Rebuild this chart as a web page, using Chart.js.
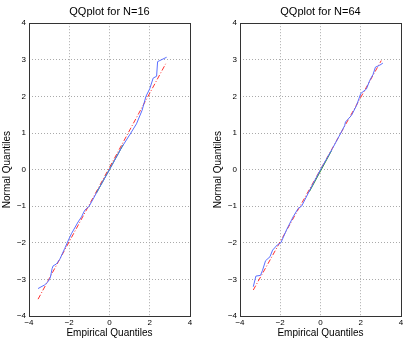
<!DOCTYPE html>
<html>
<head>
<meta charset="utf-8">
<script src="https://cdn.jsdelivr.net/npm/chart.js@4"></script>
<style>
  html, body { margin: 0; padding: 0; background: #fff; }
  #wrap { position: relative; width: 407px; height: 342px; }
  .box { position: absolute; top: 0; height: 342px; }
</style>
</head>
<body>
<div id="wrap">
  <div class="box" style="left:0; width:203px;"><canvas id="qq16"></canvas></div>
  <div class="box" style="left:211px; width:196px;"><canvas id="qq64"></canvas></div>
</div>
<script>
// tick values shared by both plots
const xTicks = [-4, -2, 0, 2, 4];
const yTicks = [-4, -3, -2, -1, 0, 1, 2, 3, 4];

// N=16 : empirical (x) vs normal (y) quantiles
const emp16 = [-3.55, -3.22, -3.05, -2.94, -2.85, -2.80, -2.64, -2.47, -2.22, -2.06, -1.89, -1.56, -1.39, -1.23, -1.01, -0.48, 0.02, 0.6, 1.06, 1.34, 1.62, 1.81, 2.0, 2.17, 2.34, 2.39, 2.5, 2.84];
const norm16 = [-3.25, -3.15, -3.06, -2.95, -2.70, -2.63, -2.58, -2.45, -2.15, -1.95, -1.75, -1.43, -1.29, -1.11, -1.0, -0.47, 0.02, 0.6, 1.0, 1.25, 1.62, 2.0, 2.21, 2.5, 2.55, 2.95, 2.98, 3.07];
const refX16 = [-3.55, 2.79];
const refY16 = [-3.54, 2.89];
const iqrX16 = [-0.65, 0.68];
const iqrY16 = [-0.64, 0.68];

// N=64
const emp64 = [-3.34, -3.21, -2.98, -2.88, -2.73, -2.51, -2.38, -2.15, -1.97, -1.69, -1.36, -1.11, -0.94, -0.40, 0.02, 0.6, 1.01, 1.2, 1.24, 1.54, 1.79, 2.0, 2.28, 2.45, 2.61, 2.73, 2.94, 3.1];
const norm64 = [-3.2, -2.91, -2.89, -2.75, -2.49, -2.38, -2.2, -2.06, -2.0, -1.65, -1.29, -1.06, -1.0, -0.42, 0.02, 0.58, 1.0, 1.2, 1.3, 1.48, 1.75, 2.08, 2.2, 2.44, 2.6, 2.8, 2.85, 2.91];
const refX64 = [-3.34, 3.02];
const refY64 = [-3.29, 2.98];
const iqrX64 = [-0.55, 0.55];
const iqrY64 = [-0.6, 0.52];

const pts = (xs, ys) => xs.map((x, i) => ({ x: x, y: ys[i] }));
const fmt = v => (v < 0 ? '\u2212' + Math.abs(v) : String(v));

// black frame around the plot area, like matlab's box on
const framePlugin = {
    id: 'frame',
    afterDraw(chart) {
        const a = chart.chartArea, ctx = chart.ctx;
        ctx.save();
        ctx.strokeStyle = '#333';
        ctx.lineWidth = 1;
        ctx.strokeRect(Math.round(a.left) + 0.5, Math.round(a.top) + 0.5,
            Math.round(a.right - a.left), Math.round(a.bottom - a.top));
        ctx.restore();
    }
};

function makeQQ(id, title, emp, norm, rx, ry, ix, iy) {
    const ctx = document.getElementById(id).getContext('2d');
    return new Chart(ctx, {
        type: 'scatter',
        data: {
            datasets: [
                {
                    data: pts(emp, norm),
                    showLine: true,
                    borderColor: 'rgb(90,110,255)',
                    borderWidth: 1,
                    pointRadius: 0,
                    order: 0
                },
                {
                    data: pts(rx, ry),
                    showLine: true,
                    borderColor: 'rgb(255,50,50)',
                    borderWidth: 1,
                    borderDash: [5, 2, 1, 2],
                    pointRadius: 0,
                    order: 2
                },
                {
                    data: pts(ix, iy),
                    showLine: true,
                    borderColor: 'rgb(40,150,40)',
                    borderWidth: 1,
                    pointRadius: 0,
                    order: 1
                }
            ]
        },
        options: {
            responsive: true,
            maintainAspectRatio: false,
            animation: false,
            layout: { padding: { left: 0, right: 13, top: 0, bottom: 0 } },
            plugins: {
                legend: { display: false },
                tooltip: { enabled: false },
                title: {
                    display: true,
                    text: title,
                    fullSize: false,
                    color: '#000',
                    font: { family: 'Liberation Sans', size: 11, weight: 'normal' },
                    padding: { top: 5, bottom: 5 }
                }
            },
            scales: {
                x: {
                    type: 'linear',
                    min: -4,
                    max: 4,
                    afterBuildTicks: s => { s.ticks = xTicks.map(v => ({ value: v })); },
                    afterFit: s => { s.height = 26; },
                    grid: { color: '#aaa', lineWidth: 1, drawTicks: false },
                    border: { display: false, dash: [1, 2] },
                    ticks: {
                        color: '#000',
                        padding: 2,
                        maxRotation: 0,
                        font: { family: 'Liberation Sans', size: 8 },
                        callback: v => fmt(v)
                    },
                    title: {
                        display: true,
                        text: 'Empirical Quantiles',
                        color: '#000',
                        font: { family: 'Liberation Sans', size: 10 },
                        padding: { top: 0, bottom: 3 }
                    }
                },
                y: {
                    type: 'linear',
                    min: -4,
                    max: 4,
                    afterBuildTicks: s => { s.ticks = yTicks.map(v => ({ value: v })); },
                    afterFit: s => { s.width = 29; },
                    grid: { color: '#aaa', lineWidth: 1, drawTicks: false },
                    border: { display: false, dash: [1, 2] },
                    ticks: {
                        color: '#000',
                        padding: 3,
                        font: { family: 'Liberation Sans', size: 8 },
                        callback: v => fmt(v)
                    },
                    title: {
                        display: true,
                        text: 'Normal Quantiles',
                        color: '#000',
                        font: { family: 'Liberation Sans', size: 10 },
                        padding: { top: 1, bottom: 0 }
                    }
                }
            }
        },
        plugins: [framePlugin]
    });
}

window.chart16 = makeQQ('qq16', 'QQplot for N=16', emp16, norm16, refX16, refY16, iqrX16, iqrY16);
window.chart64 = makeQQ('qq64', 'QQplot for N=64', emp64, norm64, refX64, refY64, iqrX64, iqrY64);
// right panel sits closer to the window edge
window.chart64.options.layout.padding.right = 6;
window.chart64.update();
</script>
</body>
</html>
